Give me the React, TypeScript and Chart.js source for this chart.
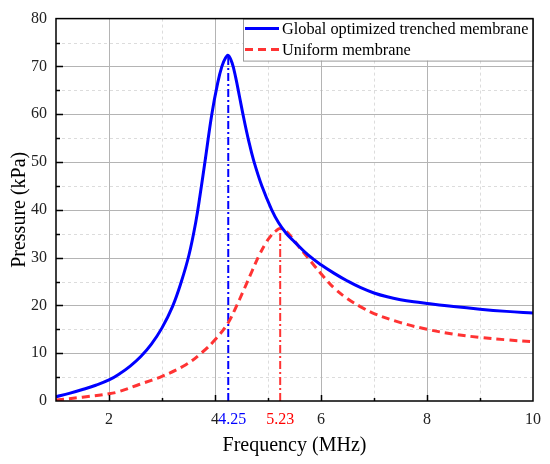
import { useEffect, useRef } from "react";
import { Chart, registerables } from "chart.js";

Chart.register(...registerables);

// Frequency (MHz) / pressure (kPa)
const blueFreq = [1.0, 1.25, 1.5, 1.75, 2.0, 2.2, 2.4, 2.6, 2.8, 3.0, 3.2, 3.36, 3.51, 3.64, 3.72, 3.81, 3.94, 4.05, 4.13, 4.2, 4.25, 4.32, 4.39, 4.46, 4.54, 4.63, 4.73, 4.89, 5.07, 5.2, 5.35, 5.5, 5.75, 6.0, 6.25, 6.5, 6.75, 7.0, 7.25, 7.5, 7.75, 8.0, 8.5, 9.0, 9.5, 10];
const bluePressure = [0.9, 1.6, 2.4, 3.3, 4.4, 5.7, 7.3, 9.3, 11.9, 15.3, 19.8, 24.8, 30.6, 37.6, 43.2, 50, 60, 66.5, 70, 71.8, 72.3, 70.8, 67.7, 63.8, 59.3, 54.7, 50.3, 44.8, 40.0, 37.3, 35.0, 33.3, 30.6, 28.5, 26.7, 25.1, 23.7, 22.6, 21.8, 21.2, 20.75, 20.4, 19.75, 19.2, 18.75, 18.4];

const redFreq = [1.0, 1.5, 2.0, 2.2, 2.58, 3.01, 3.45, 3.76, 4.0, 4.24, 4.39, 4.55, 4.7, 4.83, 4.95, 5.05, 5.15, 5.23, 5.35, 5.45, 5.58, 5.75, 5.89, 6.05, 6.26, 6.5, 6.75, 7.0, 7.5, 8.0, 8.5, 9.0, 9.5, 10];
const redPressure = [0.2, 0.8, 1.5, 2.0, 3.5, 5.2, 7.6, 10.2, 12.8, 16.2, 19.5, 23.4, 27.2, 30.4, 32.9, 34.5, 35.6, 36.1, 35.4, 34.2, 32.3, 30.0, 28.1, 26.0, 23.5, 21.4, 19.7, 18.3, 16.4, 15.0, 14.0, 13.3, 12.8, 12.4];

const bluePeakFreq = 4.25;
const bluePeakPressure = 72.3;
const redPeakFreq = 5.23;
const redPeakPressure = 36.1;

const xTickValues = [2, 4, bluePeakFreq, redPeakFreq, 6, 8, 10];
const xMajorGrid = [2, 4, 6, 8];
const xMinorGrid = [3, 5, 7, 9];
const yMajorGrid = [10, 20, 30, 40, 50, 60, 70];
const yMinorGrid = [5, 15, 25, 35, 45, 55, 65, 75];

const seriesNames = ["Global optimized trenched membrane", "Uniform membrane"];

const BLUE = "#0000ff";
const RED = "#ff3333";
const FONT = "'Liberation Serif', 'Times New Roman', serif";

const framePlugin = {
  id: "frame",
  beforeDatasetsDraw(chart: any) {
    const { ctx, chartArea: a, scales } = chart;
    const x = scales.x;
    const y = scales.y;
    ctx.save();
    ctx.lineWidth = 1;
    // minor grid
    ctx.strokeStyle = "#dcdcdc";
    ctx.setLineDash([3, 3]);
    ctx.beginPath();
    xMinorGrid.forEach((v) => {
      const px = Math.round(x.getPixelForValue(v)) + 0.5;
      ctx.moveTo(px, a.top);
      ctx.lineTo(px, a.bottom);
    });
    yMinorGrid.forEach((v) => {
      const py = Math.round(y.getPixelForValue(v)) + 0.5;
      ctx.moveTo(a.left, py);
      ctx.lineTo(a.right, py);
    });
    ctx.stroke();
    // major grid
    ctx.strokeStyle = "#b4b4b4";
    ctx.setLineDash([]);
    ctx.beginPath();
    xMajorGrid.forEach((v) => {
      const px = Math.round(x.getPixelForValue(v)) + 0.5;
      ctx.moveTo(px, a.top);
      ctx.lineTo(px, a.bottom);
    });
    yMajorGrid.forEach((v) => {
      const py = Math.round(y.getPixelForValue(v)) + 0.5;
      ctx.moveTo(a.left, py);
      ctx.lineTo(a.right, py);
    });
    ctx.stroke();
    ctx.restore();
  },
  afterDatasetsDraw(chart: any) {
    const { ctx, chartArea: a, scales } = chart;
    const x = scales.x;
    const y = scales.y;
    ctx.save();

    // legend box
    const lx = a.right - 290;
    const ly = a.top;
    ctx.fillStyle = "#ffffff";
    ctx.fillRect(lx, ly, 290, 42);
    ctx.strokeStyle = "#999999";
    ctx.lineWidth = 1;
    ctx.strokeRect(lx + 0.5, ly + 0.5, 290, 42);
    ctx.lineWidth = 3;
    ctx.strokeStyle = BLUE;
    ctx.beginPath();
    ctx.moveTo(lx + 2, ly + 10);
    ctx.lineTo(lx + 36, ly + 10);
    ctx.stroke();
    ctx.strokeStyle = RED;
    ctx.setLineDash([8, 5]);
    ctx.beginPath();
    ctx.moveTo(lx + 2, ly + 31);
    ctx.lineTo(lx + 36, ly + 31);
    ctx.stroke();
    ctx.setLineDash([]);
    ctx.fillStyle = "#000000";
    ctx.font = `16.3px ${FONT}`;
    ctx.textBaseline = "middle";
    ctx.textAlign = "left";
    ctx.fillText(seriesNames[0], lx + 39, ly + 11);
    ctx.fillText(seriesNames[1], lx + 39, ly + 32);

    // frame
    ctx.strokeStyle = "#000000";
    ctx.lineWidth = 1.5;
    ctx.strokeRect(a.left, a.top, a.right - a.left, a.bottom - a.top);

    // inward tick marks
    ctx.beginPath();
    xMajorGrid.forEach((v) => {
      const px = Math.round(x.getPixelForValue(v)) + 0.5;
      ctx.moveTo(px, a.bottom);
      ctx.lineTo(px, a.bottom - 6);
    });
    xMinorGrid.forEach((v) => {
      const px = Math.round(x.getPixelForValue(v)) + 0.5;
      ctx.moveTo(px, a.bottom);
      ctx.lineTo(px, a.bottom - 3);
    });
    yMajorGrid.forEach((v) => {
      const py = Math.round(y.getPixelForValue(v)) + 0.5;
      ctx.moveTo(a.left, py);
      ctx.lineTo(a.left + 7, py);
    });
    yMinorGrid.forEach((v) => {
      const py = Math.round(y.getPixelForValue(v)) + 0.5;
      ctx.moveTo(a.left, py);
      ctx.lineTo(a.left + 4, py);
    });
    ctx.stroke();
    ctx.restore();
  },
};

export default function App() {
  const chartRef = useRef<HTMLCanvasElement>(null);
  const chartInstance = useRef<Chart | null>(null);

  useEffect(() => {
    if (!chartRef.current) return;
    if (chartInstance.current) chartInstance.current.destroy();
    const ctx = chartRef.current.getContext("2d");
    if (!ctx) return;

    const blueData = blueFreq.map((f, i) => ({ x: f, y: bluePressure[i] }));
    const redData = redFreq.map((f, i) => ({ x: f, y: redPressure[i] }));

    chartInstance.current = new Chart(ctx, {
      type: "line",
      data: {
        datasets: [
          {
            label: seriesNames[0],
            data: blueData,
            borderColor: BLUE,
            borderWidth: 3,
            pointRadius: 0,
            fill: false,
            tension: 0.4,
          },
          {
            label: seriesNames[1],
            data: redData,
            borderColor: RED,
            borderWidth: 3,
            borderDash: [8, 5],
            pointRadius: 0,
            fill: false,
            tension: 0.4,
          },
          {
            label: "blue peak",
            data: [
              { x: bluePeakFreq, y: 0 },
              { x: bluePeakFreq, y: bluePeakPressure },
            ],
            borderColor: BLUE,
            borderWidth: 2,
            borderDash: [8, 3, 2, 3],
            pointRadius: 0,
            fill: false,
          },
          {
            label: "red peak",
            data: [
              { x: redPeakFreq, y: 0 },
              { x: redPeakFreq, y: redPeakPressure },
            ],
            borderColor: RED,
            borderWidth: 2,
            borderDash: [8, 3, 2, 3],
            pointRadius: 0,
            fill: false,
          },
        ],
      },
      options: {
        responsive: true,
        maintainAspectRatio: false,
        animation: false,
        layout: { padding: { left: 0, right: 17, top: 17, bottom: 0 } },
        plugins: {
          legend: { display: false },
          tooltip: { enabled: false },
        },
        scales: {
          x: {
            type: "linear",
            min: 1,
            max: 10,
            afterBuildTicks: (s: any) => {
              s.ticks = xTickValues.map((v) => ({ value: v }));
            },
            afterFit: (s: any) => {
              s.height = 63;
            },
            grid: { display: false, drawTicks: false },
            border: { display: false },
            ticks: {
              autoSkip: false,
              maxRotation: 0,
              padding: 9,
              font: { family: FONT, size: 16 },
              color: (c: any) =>
                c.tick && c.tick.value === bluePeakFreq
                  ? BLUE
                  : c.tick && c.tick.value === redPeakFreq
                  ? "#ff0000"
                  : "#222222",
              // leading spaces nudge the peak label right, as in the original
              callback: (v: any) => (v === bluePeakFreq ? "  " + v : String(v)),
            },
            title: {
              display: true,
              text: "Frequency (MHz)",
              color: "#000000",
              font: { family: FONT, size: 20 },
              padding: { top: 0, bottom: 6 },
            },
          },
          y: {
            type: "linear",
            min: 0,
            max: 80,
            afterFit: (s: any) => {
              s.width = 56;
            },
            grid: { display: false, drawTicks: false },
            border: { display: false },
            ticks: {
              stepSize: 10,
              padding: 9,
              font: { family: FONT, size: 16 },
              color: "#222222",
            },
            title: {
              display: true,
              text: "Pressure (kPa)",
              color: "#000000",
              font: { family: FONT, size: 20 },
              padding: { top: 8, bottom: 0 },
            },
          },
        },
      },
      plugins: [framePlugin],
    });

    return () => {
      if (chartInstance.current) {
        chartInstance.current.destroy();
        chartInstance.current = null;
      }
    };
  }, []);

  return (
    <div style={{ position: "absolute", left: 0, top: 0, width: 550, height: 464, background: "#ffffff" }}>
      <canvas ref={chartRef} />
    </div>
  );
}
